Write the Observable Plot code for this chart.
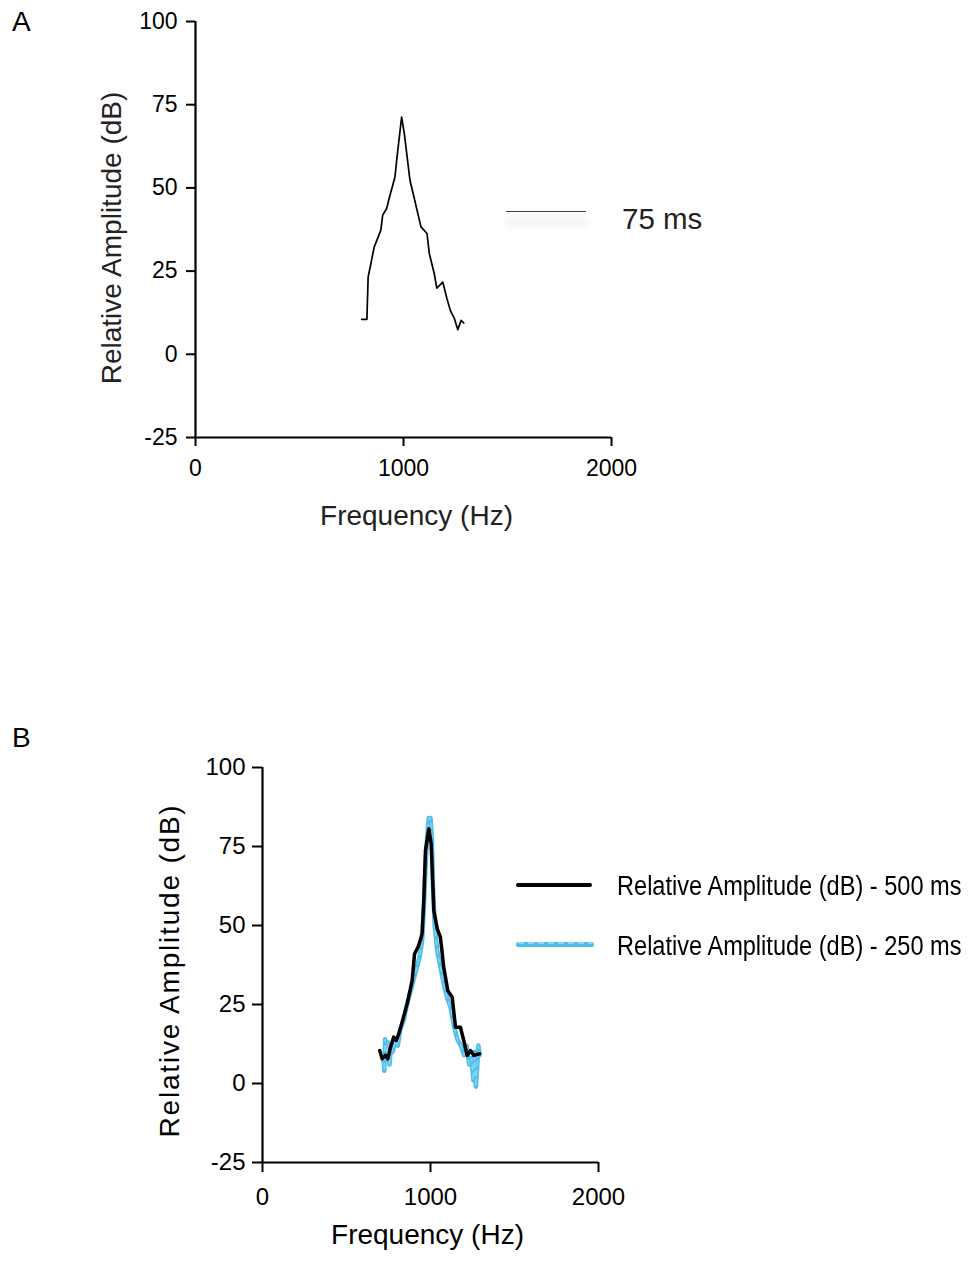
<!DOCTYPE html>
<html><head><meta charset="utf-8">
<script src="https://cdn.jsdelivr.net/npm/d3@7"></script>
<script src="https://cdn.jsdelivr.net/npm/@observablehq/plot@0.6"></script>
<style>
body{margin:0;background:#fff;}
#page{position:relative;width:970px;height:1262px;overflow:hidden;font-family:"Liberation Sans",Arial,sans-serif;color:#000;}
.abs{position:absolute;}
.leg{font-size:27px;line-height:32px;white-space:nowrap;transform:scaleX(0.873);transform-origin:0 50%;}
</style></head><body><div id="page">
<div class="abs" style="left:12px;top:6px;font-size:28px;">A</div>
<div class="abs" style="left:12px;top:722px;font-size:28px;">B</div>
<div class="abs" style="left:506px;top:218px;width:82px;height:8px;background:rgba(0,0,0,0.05);filter:blur(3px);"></div>
<div class="abs" style="left:506px;top:211px;width:80px;height:0;border-top:1.5px solid #444;"></div>
<div class="abs" style="left:622px;top:201px;font-size:29.5px;color:#222;line-height:36px;white-space:nowrap;">75 ms</div>
<div class="abs" style="left:516px;top:883px;width:76px;height:0;border-top:4px solid #000;border-radius:2px;"></div>
<div class="abs leg" style="left:617px;top:870px;">Relative Amplitude (dB) - 500 ms</div>
<div class="abs" style="left:516px;top:942px;width:78px;height:5px;background:#4cbce9;border-radius:2px;"></div>
<div class="abs" style="left:518px;top:942px;width:76px;height:0;border-top:2px dashed #8fd4f2;"></div>
<div class="abs leg" style="left:617px;top:930px;">Relative Amplitude (dB) - 250 ms</div>
</div>
<script>
// Panel A: 75 ms
const freqA = [799, 824, 830, 859, 891, 900, 919, 931, 959, 969, 991, 1004, 1031, 1052, 1084, 1113, 1124, 1148, 1160, 1189, 1209, 1225, 1245, 1261, 1277, 1290];
const ampA  = [10.5, 10.5, 23.2, 32.2, 37.3, 41.8, 43.8, 46.8, 53.3, 59.3, 71.3, 66.3, 52.3, 46.8, 38.3, 36.3, 30.3, 24.2, 19.9, 21.7, 16.7, 13.2, 10.7, 7.4, 10.2, 9.4];

// Panel B: 500 ms
const freqB500 = [698, 712, 732, 746, 762, 781, 796, 811, 831, 861, 891, 905, 930, 950, 960, 970, 990, 1004, 1020, 1040, 1059, 1079, 1103, 1129, 1149, 1178, 1198, 1218, 1238, 1258, 1292];
const ampB500  = [10.4, 7.8, 8.9, 7.8, 11.5, 14.7, 13.6, 15.7, 19.4, 25.2, 32.6, 41.0, 43.7, 47.4, 57.9, 73.7, 80.6, 75.9, 54.7, 49.0, 46.3, 36.8, 29.4, 27.3, 17.8, 17.8, 13.6, 8.9, 10.4, 8.9, 9.4];

// Panel B: 250 ms
const freqB250 = [720, 725, 730, 740, 748, 756, 765, 775, 790, 805, 820, 840, 860, 880, 900, 920, 935, 950, 960, 970, 980, 990, 1000, 1008, 1015, 1025, 1040, 1055, 1070, 1085, 1100, 1120, 1140, 1160, 1180, 1200, 1215, 1230, 1245, 1255, 1262, 1270, 1278, 1285, 1292];
const ampB250  = [9, 4, 14, 8, 13, 6, 12, 10, 14, 12, 17, 20, 25, 29, 33, 37, 40, 45, 55, 68, 78, 84, 84, 78, 62, 50, 42, 38, 34, 30, 27, 24, 18, 14, 12, 9, 12, 6, 8, 1, 10, -1, 5, 12, 9];

const xTicks = [0, 1000, 2000];
const yTicks = [-25, 0, 25, 50, 75, 100];
const xLabel = "Frequency (Hz)";
const yLabel = "Relative Amplitude (dB)";

const rows = (xs, ys) => xs.map((f, i) => ({f, a: ys[i]}));
const fmt = d => String(d);
const font = "'Liberation Sans', Arial, sans-serif";

const plotA = Plot.plot({
  width: 970, height: 560,
  marginLeft: 195, marginRight: 359, marginTop: 21, marginBottom: 123,
  x: {domain: [0, 2000]},
  y: {domain: [-25, 100]},
  style: {fontFamily: font, background: "transparent", color: "#000"},
  marks: [
    Plot.axisY({ticks: yTicks, tickSize: 9, tickPadding: 9, fontSize: 23, strokeWidth: 2, label: null, tickFormat: fmt}),
    Plot.axisX({ticks: xTicks, tickSize: 9, tickPadding: 13, fontSize: 23, strokeWidth: 2, label: null, tickFormat: fmt}),
    Plot.ruleX([0], {strokeWidth: 2.2}),
    Plot.ruleY([-25], {strokeWidth: 2.2}),
    Plot.line(rows(freqA, ampA), {x: "f", y: "a", stroke: "#000", strokeWidth: 1.7}),
    Plot.text([xLabel], {frameAnchor: "bottom", lineAnchor: "middle", textAnchor: "middle", dx: 13, dy: 79, fontSize: 28, fill: "#222"}),
    Plot.text([yLabel], {frameAnchor: "left", lineAnchor: "middle", textAnchor: "middle", rotate: -90, dx: -83.5, dy: 8.5, fontSize: 28, fill: "#222"})
  ]
});
plotA.style.position = "absolute";
plotA.style.left = "0px";
plotA.style.top = "0px";
document.getElementById("page").appendChild(plotA);

const plotB = Plot.plot({
  width: 970, height: 562,
  marginLeft: 262, marginRight: 372, marginTop: 67, marginBottom: 100,
  x: {domain: [0, 2000]},
  y: {domain: [-25, 100]},
  style: {fontFamily: font, background: "transparent", color: "#000"},
  marks: [
    Plot.axisY({ticks: yTicks, tickSize: 10, tickPadding: 7, fontSize: 24, strokeWidth: 2, label: null, tickFormat: fmt}),
    Plot.axisX({ticks: xTicks, tickSize: 10, tickPadding: 15, fontSize: 24, strokeWidth: 2, label: null, tickFormat: fmt}),
    Plot.ruleX([0], {strokeWidth: 2.2}),
    Plot.ruleY([-25], {strokeWidth: 2.2}),
    Plot.line(rows(freqB250, ampB250), {x: "f", y: "a", stroke: "#4cbce9", strokeWidth: 4.5}),
    Plot.line(rows(freqB250, ampB250), {x: "f", y: "a", stroke: "#86d2f2", strokeWidth: 1.5, strokeDasharray: "5,4"}),
    Plot.line(rows(freqB500, ampB500), {x: "f", y: "a", stroke: "#000", strokeWidth: 3.5}),
    Plot.text([xLabel], {frameAnchor: "bottom", lineAnchor: "middle", textAnchor: "middle", dx: -3, dy: 73, fontSize: 28}),
    Plot.text([yLabel], {frameAnchor: "left", lineAnchor: "middle", textAnchor: "middle", rotate: -90, dx: -92, dy: 5.5, fontSize: 28})
  ]
});
plotB.style.position = "absolute";
plotB.style.left = "0px";
plotB.style.top = "700px";
document.getElementById("page").appendChild(plotB);
plotB.querySelectorAll("text").forEach(t => {
  if (t.textContent === yLabel) t.style.letterSpacing = "1.8px";
});
</script></body></html>
